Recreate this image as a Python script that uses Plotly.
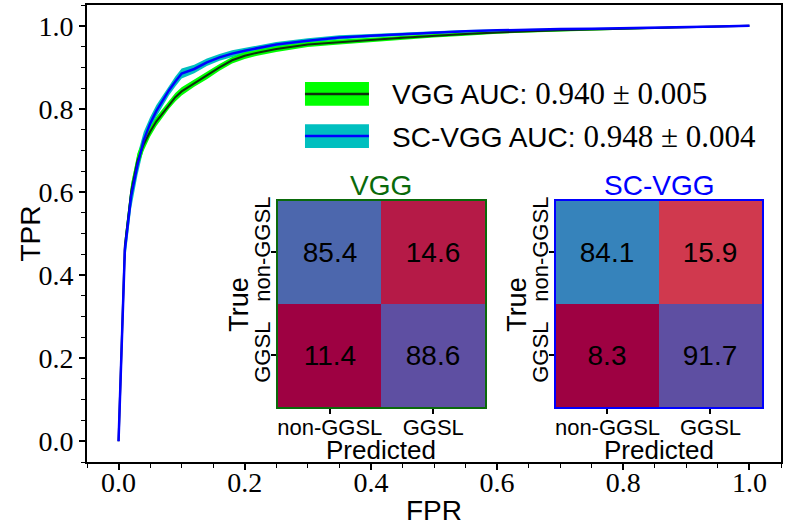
import plotly.graph_objects as go

# ---------------- data ----------------
fpr = [0.0, 0.01, 0.02, 0.03, 0.04, 0.05, 0.06, 0.07, 0.08, 0.09, 0.10, 0.12, 0.14,
       0.16, 0.18, 0.20, 0.22, 0.25, 0.30, 0.35, 0.40, 0.45, 0.50, 0.55, 0.60, 0.65,
       0.70, 0.75, 0.80, 0.85, 0.90, 0.95, 1.0]

vgg_tpr = [0.0, 0.47, 0.60, 0.675, 0.715, 0.745, 0.770, 0.790, 0.810, 0.828, 0.842,
           0.862, 0.880, 0.900, 0.917, 0.928, 0.935, 0.944, 0.955, 0.961, 0.966,
           0.971, 0.976, 0.980, 0.984, 0.987, 0.989, 0.991, 0.993, 0.995, 0.997,
           0.998, 1.0]
vgg_std = [0.0, 0.02, 0.02, 0.018, 0.015, 0.012, 0.011, 0.010, 0.010, 0.010, 0.010,
           0.009, 0.009, 0.008, 0.008, 0.008, 0.007, 0.007, 0.006, 0.006, 0.005,
           0.005, 0.004, 0.004, 0.003, 0.003, 0.003, 0.002, 0.002, 0.002, 0.001,
           0.001, 0.0]

scvgg_tpr = [0.0, 0.46, 0.59, 0.665, 0.725, 0.764, 0.795, 0.820, 0.845, 0.866, 0.885,
             0.896, 0.912, 0.924, 0.933, 0.940, 0.946, 0.955, 0.964, 0.972, 0.976,
             0.980, 0.984, 0.987, 0.989, 0.991, 0.992, 0.993, 0.994, 0.995, 0.997,
             0.998, 1.0]
scvgg_std = [0.0, 0.03, 0.03, 0.025, 0.020, 0.016, 0.014, 0.013, 0.012, 0.012, 0.012,
             0.010, 0.009, 0.008, 0.008, 0.007, 0.007, 0.006, 0.006, 0.005, 0.004,
             0.004, 0.003, 0.003, 0.002, 0.002, 0.002, 0.002, 0.001, 0.001, 0.001,
             0.001, 0.0]

vgg_auc, vgg_auc_std = "0.940", "0.005"
scvgg_auc, scvgg_auc_std = "0.948", "0.004"

classes = ["non-GGSL", "GGSL"]
vgg_cm = [[85.4, 14.6], [11.4, 88.6]]
scvgg_cm = [[84.1, 15.9], [8.3, 91.7]]

major_ticks = [0.0, 0.2, 0.4, 0.6, 0.8, 1.0]
major_labels = ["0.0", "0.2", "0.4", "0.6", "0.8", "1.0"]

# ---------------- style ----------------
SANS = "Liberation Sans"
SERIF = "Liberation Serif"
LIME = "#00ff00"
CYAN = "#00bfbf"
VGG_LINE = "#0f2f0f"
SC_LINE = "#0000ff"
VGG_EDGE = "#0a6a0a"
SC_EDGE = "#0000ff"
spectral = [[0.0, "#9e0142"], [0.1, "#d53e4f"], [0.2, "#f46d43"], [0.3, "#fdae61"],
            [0.4, "#fee08b"], [0.5, "#ffffbf"], [0.6, "#e6f598"], [0.7, "#abdda4"],
            [0.8, "#66c2a5"], [0.9, "#3288bd"], [1.0, "#5e4fa2"]]

fig = go.Figure()

def band(tpr, std, color):
    up = [min(1.0, t + s) for t, s in zip(tpr, std)]
    lo = [max(0.0, t - s) for t, s in zip(tpr, std)]
    fig.add_trace(go.Scatter(x=fpr, y=up, mode="lines", line=dict(width=0, color=color),
                             showlegend=False, hoverinfo="skip"))
    fig.add_trace(go.Scatter(x=fpr, y=lo, mode="lines", line=dict(width=0, color=color),
                             fill="tonexty", fillcolor=color, showlegend=False,
                             hoverinfo="skip"))

band(scvgg_tpr, scvgg_std, CYAN)
band(vgg_tpr, vgg_std, LIME)
fig.add_trace(go.Scatter(x=fpr, y=vgg_tpr, mode="lines", line=dict(color=VGG_LINE, width=2),
                         showlegend=False))
fig.add_trace(go.Scatter(x=fpr, y=scvgg_tpr, mode="lines", line=dict(color=SC_LINE, width=2.5),
                         showlegend=False))

# confusion matrices
fig.add_trace(go.Heatmap(z=vgg_cm, x=classes, y=classes, colorscale=spectral,
                         showscale=False, texttemplate="%{z:.1f}",
                         textfont=dict(family=SANS, size=28, color="black"),
                         xaxis="x2", yaxis="y2"))
fig.add_trace(go.Heatmap(z=scvgg_cm, x=classes, y=classes, colorscale=spectral,
                         showscale=False, texttemplate="%{z:.1f}",
                         textfont=dict(family=SANS, size=28, color="black"),
                         xaxis="x3", yaxis="y3"))

main_axis = dict(range=[-0.05, 1.05], showgrid=False, zeroline=False, showline=True,
                 mirror=True, linecolor="black", linewidth=2, ticks="outside",
                 ticklen=6, tickwidth=1.5, tickcolor="black", automargin=False,
                 tickvals=major_ticks, ticktext=major_labels,
                 tickfont=dict(family=SERIF, size=28, color="black"),
                 minor=dict(dtick=0.05, tick0=0, ticks="outside", ticklen=4,
                            tickwidth=1.2, tickcolor="black", showgrid=False))

def cm_axes(xdom, ydom, edge, xa, ya):
    common = dict(showgrid=False, zeroline=False, showline=True, mirror=True,
                  linecolor=edge, linewidth=2, ticks="outside", ticklen=5,
                  tickwidth=1.5, tickcolor="black", automargin=False,
                  tickfont=dict(family=SANS, size=22, color="black"))
    x = dict(common, domain=xdom, anchor=ya, ticklabelstandoff=-5)
    y = dict(common, domain=ydom, anchor=xa, autorange="reversed", tickangle=-90,
             ticklabelstandoff=-8)
    return x, y

x2, y2 = cm_axes([0.2752, 0.5735], [0.1204, 0.5711], VGG_EDGE, "x2", "y2")
x3, y3 = cm_axes([0.6758, 0.9726], [0.1204, 0.5711], SC_EDGE, "x3", "y3")

fig.update_layout(
    width=788, height=525,
    margin=dict(l=87, r=7, t=5, b=63, autoexpand=False),
    paper_bgcolor="white", plot_bgcolor="white",
    showlegend=False,
    xaxis=dict(main_axis, ticklabelstandoff=-12), yaxis=main_axis,
    xaxis2=x2, yaxis2=y2, xaxis3=x3, yaxis3=y3,
)

# axis titles
fig.add_annotation(text="FPR", xref="paper", yref="paper", x=0.5, y=-0.107,
                   xanchor="center", yanchor="middle", showarrow=False,
                   font=dict(family=SANS, size=28, color="black"))
fig.add_annotation(text="TPR", xref="paper", yref="paper", x=-0.082, y=0.5,
                   xanchor="center", yanchor="middle", textangle=-90, showarrow=False,
                   font=dict(family=SANS, size=28, color="black"))

# inset titles and axis titles
for xa, ya, name, col in [("x2", "y2", "VGG", VGG_EDGE), ("x3", "y3", "SC-VGG", SC_EDGE)]:
    fig.add_annotation(text=name, xref=f"{xa} domain", yref=f"{ya} domain", x=0.5, y=1.0,
                       xanchor="center", yanchor="bottom", yshift=-2, showarrow=False,
                       font=dict(family=SANS, size=28, color=col))
    fig.add_annotation(text="Predicted", xref=f"{xa} domain", yref=f"{ya} domain",
                       x=0.5, y=-0.21, xanchor="center", yanchor="middle", showarrow=False,
                       font=dict(family=SANS, size=26, color="black"))
    fig.add_annotation(text="True", xref=f"{xa} domain", yref=f"{ya} domain",
                       x=-0.19, y=0.5, xanchor="center", yanchor="middle", textangle=-90,
                       showarrow=False, font=dict(family=SANS, size=27, color="black"))

# legend (drawn manually: band + line swatches)
num_style = f"font-family:{SERIF};font-size:31px"
legend_rows = [
    (0.8053, LIME, VGG_LINE, f'VGG AUC: <span style="{num_style}">{vgg_auc} ± {vgg_auc_std}</span>'),
    (0.7133, CYAN, SC_LINE, f'SC-VGG AUC: <span style="{num_style}">{scvgg_auc} ± {scvgg_auc_std}</span>'),
]
for yc, fillc, linec, txt in legend_rows:
    fig.add_shape(type="rect", xref="paper", yref="paper", x0=0.3141, x1=0.4063,
                  y0=yc - 0.026, y1=yc + 0.026, fillcolor=fillc, line=dict(width=0))
    fig.add_shape(type="line", xref="paper", yref="paper", x0=0.3141, x1=0.4063,
                  y0=yc, y1=yc, line=dict(color=linec, width=2.5))
    fig.add_annotation(text=txt, xref="paper", yref="paper", x=0.4366, y=yc,
                       xanchor="left", yanchor="middle", showarrow=False,
                       font=dict(family=SANS, size=28, color="black"))

fig.write_html("out.html", config={"displayModeBar": False},
               post_script="document.body.style.margin='0';")
